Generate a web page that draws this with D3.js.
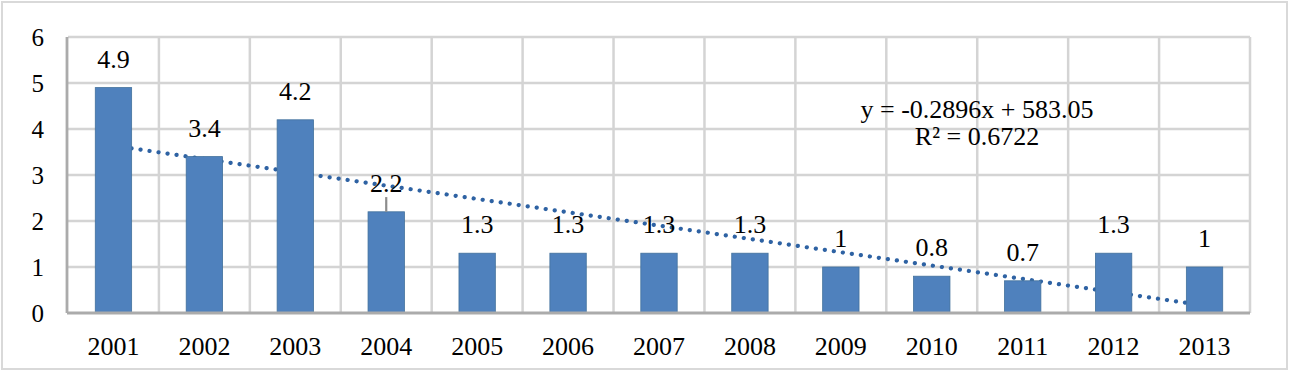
<!DOCTYPE html>
<html>
<head>
<meta charset="utf-8">
<script src="https://cdn.jsdelivr.net/npm/d3@7"></script>
<style>
  body { margin: 0; background: #fff; }
</style>
</head>
<body>
<div class="chart"></div>
<script>
// data
const years = ["2001","2002","2003","2004","2005","2006","2007","2008","2009","2010","2011","2012","2013"]
const values = [4.9, 3.4, 4.2, 2.2, 1.3, 1.3, 1.3, 1.3, 1, 0.8, 0.7, 1.3, 1]
const errPlus = [null, null, null, 0.32, null, null, null, null, null, null, null, null, null]
const yTicks = [0, 1, 2, 3, 4, 5, 6]
const eqLines = ["y = -0.2896x + 583.05", "R\u00b2 = 0.6722"]

const W = 1289, H = 372
const FONT = "Liberation Serif, Times New Roman, DejaVu Serif, serif"
const svg = d3.select(".chart").append("svg").attr("width", W).attr("height", H)
              .attr("font-family", FONT)
const plot = {left: 68, right: 1250, top: 37, bottom: 313}

// outer frame
svg.append("rect").attr("x", 2).attr("y", 2).attr("width", W - 4).attr("height", H - 5)
   .attr("fill", "none").attr("stroke", "#d9d9d9").attr("stroke-width", 2)

const x = d3.scaleBand().domain(years).range([plot.left, plot.right]).paddingInner(0.6).paddingOuter(0.3)
const y = d3.scaleLinear().domain([0, 6]).range([plot.bottom, plot.top])
const step = x.step()

// grid
const grid = svg.append("g")
grid.selectAll("line.h").data(yTicks.slice(1)).enter().append("line")
    .attr("x1", plot.left).attr("x2", plot.right).attr("y1", d => y(d)).attr("y2", d => y(d))
    .attr("stroke", "#d4d4d4").attr("stroke-width", 2.5)
grid.selectAll("line.v").data(d3.range(1, years.length + 1)).enter().append("line")
    .attr("x1", i => plot.left + i * step).attr("x2", i => plot.left + i * step)
    .attr("y1", plot.top).attr("y2", plot.bottom)
    .attr("stroke", "#d4d4d4").attr("stroke-width", 2.5)

// trendline (least squares on the years), drawn behind the bars
const xs = years.map(Number)
const mx = d3.mean(xs), my = d3.mean(values)
const slope = d3.sum(xs, (v, i) => (v - mx) * (values[i] - my)) / d3.sum(xs, v => (v - mx) * (v - mx))
const icpt = my - slope * mx
const tl = [xs[0], xs[xs.length - 1]]
svg.append("path")
   .attr("d", d3.line().x(v => x(String(v)) + x.bandwidth() / 2).y(v => y(icpt + slope * v))(tl))
   .attr("fill", "none").attr("stroke", "#2e62a3").attr("stroke-width", 4.2)
   .attr("stroke-linecap", "round").attr("stroke-dasharray", "0.1 9")

// bars
svg.selectAll("rect.bar").data(values).enter().append("rect").attr("class", "bar")
   .attr("x", (d, i) => x(years[i])).attr("width", x.bandwidth())
   .attr("y", d => y(d)).attr("height", d => plot.bottom - y(d))
   .attr("fill", "#4f81bd").attr("stroke", "#41719c").attr("stroke-width", 0.8)

// error bar
svg.selectAll("line.err").data(values.map((v, i) => ({v, e: errPlus[i], yr: years[i]})).filter(d => d.e != null))
   .enter().append("line")
   .attr("x1", d => x(d.yr) + x.bandwidth() / 2).attr("x2", d => x(d.yr) + x.bandwidth() / 2)
   .attr("y1", d => y(d.v)).attr("y2", d => y(d.v + d.e))
   .attr("stroke", "#8c8c8c").attr("stroke-width", 2.2)

// axes lines
svg.append("line").attr("x1", plot.left - 1).attr("x2", plot.right).attr("y1", plot.bottom).attr("y2", plot.bottom)
   .attr("stroke", "#ababab").attr("stroke-width", 2.8)
svg.append("line").attr("x1", plot.left - 1).attr("x2", plot.left - 1).attr("y1", plot.top).attr("y2", plot.bottom)
   .attr("stroke", "#ababab").attr("stroke-width", 2.8)

// data labels
svg.selectAll("text.lbl").data(values).enter().append("text")
   .attr("x", (d, i) => x(years[i]) + x.bandwidth() / 2).attr("y", d => y(d) - 20)
   .attr("text-anchor", "middle").style("font-size", "26px").text(d => d)

// y tick labels
svg.selectAll("text.yt").data(yTicks).enter().append("text")
   .attr("x", 44).attr("y", d => y(d) + 9).attr("text-anchor", "end")
   .style("font-size", "25px").text(d => d)

// x tick labels
svg.selectAll("text.xt").data(years).enter().append("text")
   .attr("x", d => x(d) + x.bandwidth() / 2).attr("y", 355).attr("text-anchor", "middle")
   .style("font-size", "26px").text(d => d)

// trendline equation
svg.selectAll("text.eq").data(eqLines).enter().append("text")
   .attr("x", 977).attr("y", (d, i) => 118 + i * 27).attr("text-anchor", "middle")
   .style("font-size", "26px").text(d => d)
</script>
</body>
</html>
